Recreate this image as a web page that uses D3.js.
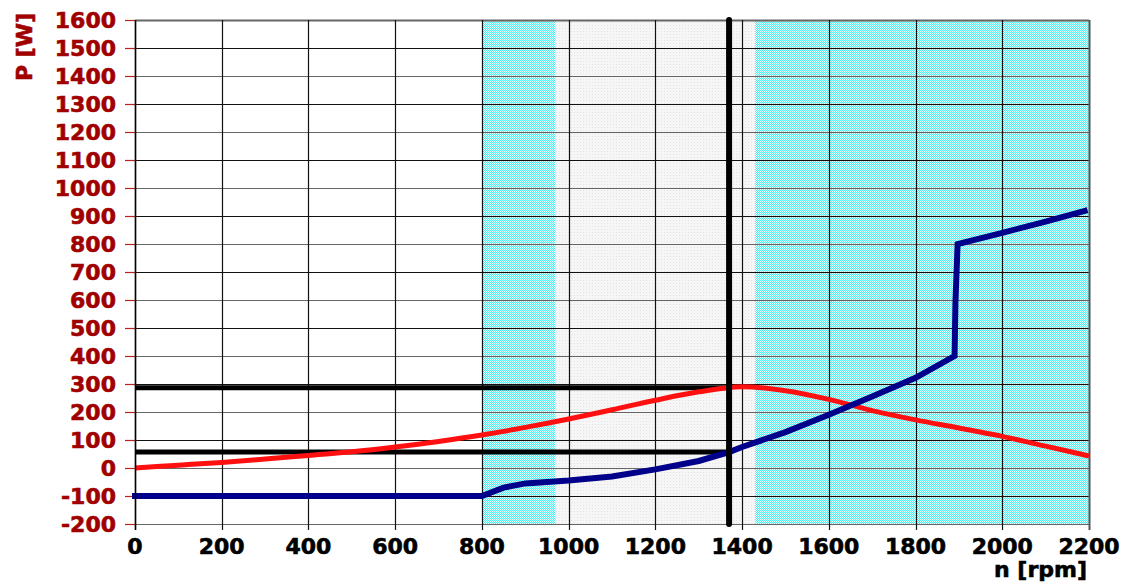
<!DOCTYPE html>
<html>
<head>
<meta charset="utf-8">
<script src="https://cdn.jsdelivr.net/npm/d3@7"></script>
<style>
  body { margin: 0; background: #fff; }
  text { font-family: "DejaVu Sans", sans-serif; font-weight: bold; stroke-width: 0.6; }
</style>
</head>
<body>
<div id="chart"></div>
<script>
// values
const xTicks = [0, 200, 400, 600, 800, 1000, 1200, 1400, 1600, 1800, 2000, 2200];
const yTicks = [-200, -100, 0, 100, 200, 300, 400, 500, 600, 700, 800, 900, 1000, 1100, 1200, 1300, 1400, 1500, 1600];

const redRpm = [0, 100, 200, 300, 400, 500, 600, 700, 800, 900, 1000, 1100, 1200, 1300, 1400, 1500, 1600, 1700, 1800, 1900, 2000, 2100, 2200];
const redP   = [0, 10, 20, 32, 45, 58, 75, 95, 118, 145, 175, 208, 242, 272, 290, 276, 245, 205, 172, 143, 113, 78, 43];

const blueRpm = [0, 800, 850, 900, 1000, 1100, 1200, 1300, 1370, 1400, 1500, 1600, 1700, 1800, 1890, 1892, 1897, 2000, 2100, 2190];
const blueP   = [-100, -100, -70, -55, -45, -30, -5, 25, 57, 75, 128, 190, 255, 322, 400, 590, 800, 840, 880, 918];

const zones = [
  {from: 800, to: 970, fill: "url(#cyan)"},
  {from: 970, to: 1430, fill: "url(#grey)"},
  {from: 1430, to: 2200, fill: "url(#cyan)"}
];

const opRpm = 1370;
const opLevels = [287, 57];

const W = 1128, H = 584;
const margin = {left: 135, right: 39, top: 20, bottom: 60};

const svg = d3.select("#chart").append("svg")
  .attr("width", W)
  .attr("height", H);

const defs = svg.append("defs");
const cyan = defs.append("pattern").attr("id", "cyan")
  .attr("patternUnits", "userSpaceOnUse").attr("width", 2).attr("height", 2);
cyan.append("rect").attr("width", 2).attr("height", 2).attr("fill", "#e6ffff");
cyan.append("rect").attr("width", 1).attr("height", 1).attr("fill", "#4ef0f0");
cyan.append("rect").attr("x", 1).attr("y", 1).attr("width", 1).attr("height", 1).attr("fill", "#4ef0f0");
const grey = defs.append("pattern").attr("id", "grey")
  .attr("patternUnits", "userSpaceOnUse").attr("width", 3).attr("height", 3);
grey.append("rect").attr("width", 3).attr("height", 3).attr("fill", "#f6f6f6");
grey.append("rect").attr("x", 1).attr("y", 1).attr("width", 1).attr("height", 1).attr("fill", "#e4e4e4");

const x = d3.scaleLinear().domain([0, 2200]).range([margin.left, W - margin.right]);
const y = d3.scaleLinear().domain([-200, 1600]).range([H - margin.bottom, margin.top]);

// background zones
svg.append("g").selectAll("rect").data(zones).enter()
  .append("rect")
  .attr("x", d => x(d.from))
  .attr("y", y(1600))
  .attr("width", d => x(d.to) - x(d.from))
  .attr("height", y(-200) - y(1600))
  .attr("fill", d => d.fill);

// grid
const grid = svg.append("g").attr("class", "grid");
grid.selectAll("line.h").data(yTicks).enter()
  .append("line")
  .attr("x1", x(0)).attr("x2", x(2200))
  .attr("y1", d => Math.round(y(d)) + 0.5).attr("y2", d => Math.round(y(d)) + 0.5)
  .attr("stroke", (d, i) => i % 2 ? "#111" : "#666")
  .attr("stroke-width", d => d === 1600 ? 2 : 1.2);
grid.selectAll("line.v").data(xTicks).enter()
  .append("line")
  .attr("y1", y(1600)).attr("y2", y(-200) + 6)
  .attr("x1", d => Math.round(x(d)) + 0.5).attr("x2", d => Math.round(x(d)) + 0.5)
  .attr("stroke", d => d === 2200 ? "#555" : "#111")
  .attr("stroke-width", d => d === 2200 ? 2 : 1.2);

// y tick marks in red
svg.append("g").selectAll("line").data(yTicks).enter()
  .append("line")
  .attr("x1", x(0) - 10).attr("x2", x(0))
  .attr("y1", d => Math.round(y(d)) + 0.5).attr("y2", d => Math.round(y(d)) + 0.5)
  .attr("stroke", "#b22")
  .attr("stroke-width", 1.2);

// operating point lines
svg.append("g").selectAll("line").data(opLevels).enter()
  .append("line")
  .attr("x1", x(0)).attr("x2", x(opRpm))
  .attr("y1", d => y(d)).attr("y2", d => y(d))
  .attr("stroke", "#000")
  .attr("stroke-width", 5);

// curves
const line = d3.line().x(d => x(d[0])).y(d => y(d[1]));

svg.append("path")
  .datum(redRpm.map((r, i) => [r, redP[i]]))
  .attr("d", line.curve(d3.curveMonotoneX))
  .attr("fill", "none")
  .attr("stroke", "#ff1010")
  .attr("stroke-width", 5);

svg.append("path")
  .datum(blueRpm.map((r, i) => [r, blueP[i]]))
  .attr("d", line.curve(d3.curveLinear))
  .attr("fill", "none")
  .attr("stroke", "#00008b")
  .attr("stroke-width", 6)
  .attr("stroke-linecap", "square");

svg.append("line")
  .attr("x1", x(opRpm)).attr("x2", x(opRpm))
  .attr("y1", y(1600)).attr("y2", y(-200))
  .attr("stroke", "#000")
  .attr("stroke-width", 6)
  .attr("stroke-linecap", "round");

// left axis line
svg.append("line")
  .attr("x1", x(0) + 0.5).attr("x2", x(0) + 0.5)
  .attr("y1", y(1600)).attr("y2", y(-200) + 6)
  .attr("stroke", "#000")
  .attr("stroke-width", 1.5);

// labels
svg.append("g").selectAll("text").data(yTicks).enter()
  .append("text")
  .attr("x", x(0) - 19)
  .attr("y", d => y(d))
  .attr("dy", "0.36em")
  .attr("text-anchor", "end")
  .attr("font-size", 22)
  .attr("fill", "#a00000")
  .attr("stroke", "#a00000")
  .text(d => d);

svg.append("g").selectAll("text").data(xTicks).enter()
  .append("text")
  .attr("x", d => x(d))
  .attr("y", 554)
  .attr("text-anchor", "middle")
  .attr("font-size", 22)
  .attr("fill", "#000")
  .attr("stroke", "#000")
  .text(d => d);

svg.append("text")
  .attr("transform", "translate(32,81) rotate(-90)")
  .attr("font-size", 22)
  .attr("fill", "#a00000")
  .attr("stroke", "#a00000")
  .text("P [W]");

svg.append("text")
  .attr("x", 1087)
  .attr("y", 577)
  .attr("text-anchor", "end")
  .attr("font-size", 22)
  .attr("fill", "#000")
  .attr("stroke", "#000")
  .text("n [rpm]");
</script>
</body>
</html>
